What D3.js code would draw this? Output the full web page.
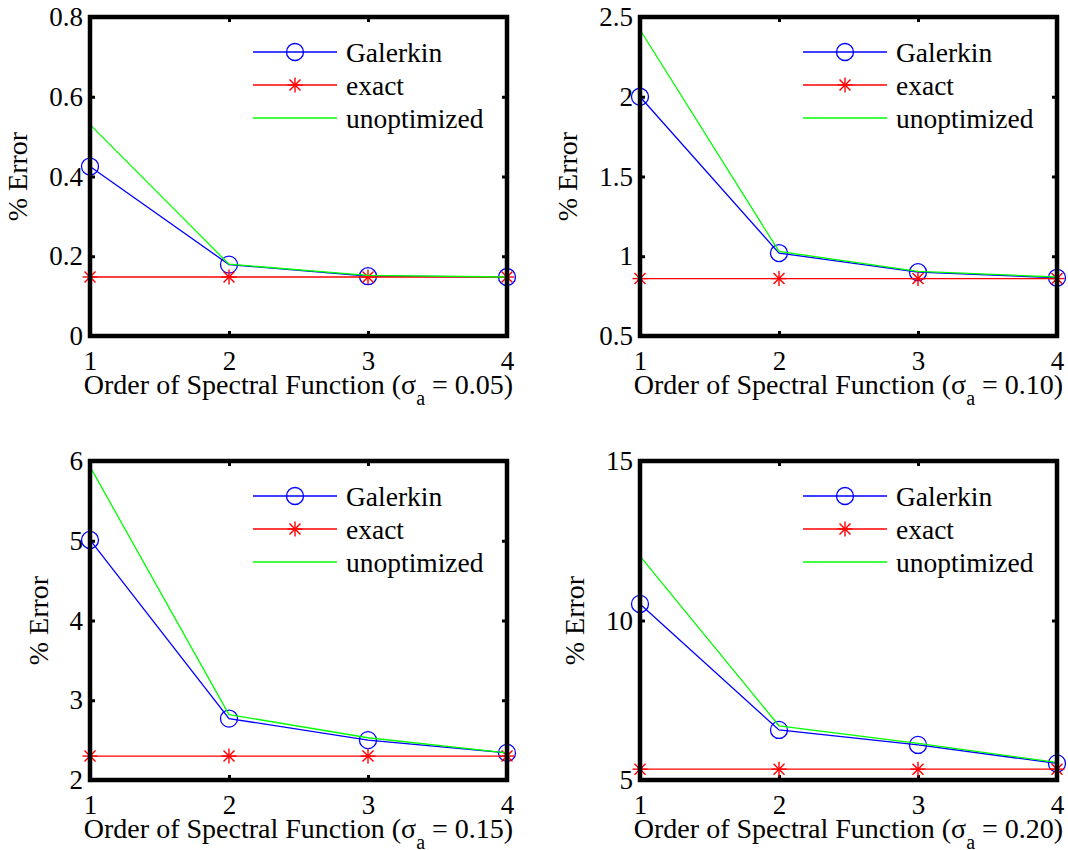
<!DOCTYPE html>
<html>
<head>
<meta charset="utf-8">
<script src="https://cdn.jsdelivr.net/npm/d3@7"></script>
<style>
  body { margin: 0; background: #fff; }
  svg { display: block; }
  text { font-family: "Liberation Serif", "Times New Roman", "DejaVu Serif", serif !important; fill: #000; }
</style>
</head>
<body>
<svg id="chart" width="1068" height="850"></svg>
<script>
// x values (order of spectral function)
const orders = [1, 2, 3, 4];
const sigmas = ["0.05", "0.10", "0.15", "0.20"];

// % error per panel
const galerkin = [
  [0.425, 0.179, 0.150, 0.148],
  [2.00, 1.02, 0.90, 0.865],
  [5.01, 2.77, 2.50, 2.34],
  [10.52, 6.57, 6.10, 5.52]
];
const exact = [
  [0.148, 0.148, 0.148, 0.148],
  [0.86, 0.86, 0.86, 0.86],
  [2.30, 2.30, 2.30, 2.30],
  [5.34, 5.34, 5.34, 5.34]
];
const unoptimized = [
  [0.530, 0.180, 0.152, 0.148],
  [2.42, 1.03, 0.905, 0.87],
  [5.93, 2.82, 2.53, 2.34],
  [12.02, 6.70, 6.15, 5.55]
];

const yDomains = [[0, 0.8], [0.5, 2.5], [2, 6], [5, 15]];
const yTicks = [
  [0, 0.2, 0.4, 0.6, 0.8],
  [0.5, 1, 1.5, 2, 2.5],
  [2, 3, 4, 5, 6],
  [5, 10, 15]
];

const seriesNames = ["Galerkin", "exact", "unoptimized"];
const seriesColors = ["#0000ff", "#ff0000", "#00ff00"];

const ctx = {
  boxW: 417, boxH: 319,
  lefts: [90, 640], tops: [17, 461],
  tickFont: 27, labelFont: 28, legendFont: 27.5,
  tickLen: 5
};

const svg = d3.select("#chart");

function drawMarker(g, kind, x, y, color) {
  if (kind === "circle") {
    g.append("circle").attr("cx", x).attr("cy", y).attr("r", 8.5)
      .attr("fill", "none").attr("stroke", color).attr("stroke-width", 1.3);
  } else if (kind === "star") {
    let a = 7.5, b = 5.5;
    let segs = [[0, -a, 0, a], [-a, 0, a, 0], [-b, -b, b, b], [-b, b, b, -b]];
    segs.forEach(s => g.append("line")
      .attr("x1", x + s[0]).attr("y1", y + s[1]).attr("x2", x + s[2]).attr("y2", y + s[3])
      .attr("stroke", color).attr("stroke-width", 1.4));
  }
}

sigmas.forEach(function(sig, p) {
  let left = ctx.lefts[p % 2], top = ctx.tops[Math.floor(p / 2)];
  let panel = svg.append("g").attr("transform", `translate(${left},${top})`);

  let x = d3.scaleLinear().domain([1, 4]).range([0, ctx.boxW]);
  let y = d3.scaleLinear().domain(yDomains[p]).range([ctx.boxH, 0]);

  // axes: labels left/bottom, inward ticks on all four sides
  let yAxisL = panel.append("g").call(d3.axisLeft(y).tickValues(yTicks[p])
      .tickSize(-ctx.tickLen).tickPadding(7).tickFormat(d => String(d)));
  panel.append("g").attr("transform", `translate(0,${ctx.boxH})`)
      .call(d3.axisBottom(x).tickValues(orders).tickSize(-ctx.tickLen).tickPadding(15).tickFormat(d3.format("d")));
  panel.append("g").attr("transform", `translate(${ctx.boxW},0)`)
      .call(d3.axisRight(y).tickValues(yTicks[p]).tickSize(-ctx.tickLen).tickFormat(""));
  panel.append("g")
      .call(d3.axisTop(x).tickValues(orders).tickSize(-ctx.tickLen).tickFormat(""));
  panel.selectAll(".domain").remove();
  panel.selectAll(".tick line").attr("stroke", "#000").attr("stroke-width", 3);
  panel.selectAll(".tick text").attr("font-size", ctx.tickFont).attr("fill", "#000");

  // series
  let line = d3.line().x((d, i) => x(orders[i])).y(d => y(d));
  [galerkin[p], exact[p], unoptimized[p]].forEach(function(vals, s) {
    panel.append("path").datum(vals).attr("d", line)
      .attr("fill", "none").attr("stroke", seriesColors[s]).attr("stroke-width", 1.3);
    let kind = s === 0 ? "circle" : (s === 1 ? "star" : null);
    if (kind) vals.forEach((v, i) => drawMarker(panel, kind, x(orders[i]), y(v), seriesColors[s]));
  });

  // box
  panel.append("rect").attr("x", 0).attr("y", 0).attr("width", ctx.boxW).attr("height", ctx.boxH)
    .attr("fill", "none").attr("stroke", "#000").attr("stroke-width", 4.5);

  // y label placed from tick label width
  let maxW = d3.max(yAxisL.selectAll(".tick text").nodes(), n => n.getComputedTextLength());
  panel.append("text")
    .attr("transform", `translate(${-7 - maxW - 22},${ctx.boxH / 2}) rotate(-90)`)
    .attr("text-anchor", "middle").attr("font-size", ctx.labelFont)
    .text("% Error");

  // x label with subscript
  let xl = panel.append("text").attr("x", ctx.boxW / 2).attr("y", ctx.boxH + 58)
    .attr("text-anchor", "middle").attr("font-size", ctx.labelFont);
  xl.append("tspan").text("Order of Spectral Function (σ");
  xl.append("tspan").attr("font-size", 20).attr("dy", 11).text("a");
  xl.append("tspan").attr("dy", -11).text(" = " + sig + ")");

  // legend (no box)
  let leg = panel.append("g");
  seriesNames.forEach(function(name, s) {
    let ly = [35, 68, 101][s];
    leg.append("line").attr("x1", 163).attr("x2", 247).attr("y1", ly).attr("y2", ly)
      .attr("stroke", seriesColors[s]).attr("stroke-width", 1.3);
    if (s === 0) drawMarker(leg, "circle", 205, ly, seriesColors[s]);
    if (s === 1) drawMarker(leg, "star", 205, ly, seriesColors[s]);
    leg.append("text").attr("x", 256).attr("y", ly).attr("dy", "0.35em")
      .attr("font-size", ctx.legendFont).text(name);
  });
});
</script>
</body>
</html>
